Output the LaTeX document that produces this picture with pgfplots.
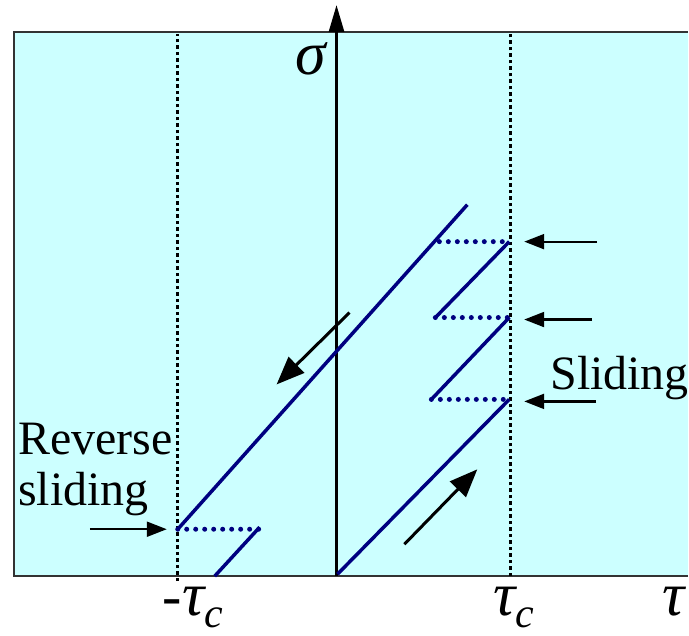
\documentclass[border=0pt]{standalone}
\usepackage{pgfplots}
\pgfplotsset{compat=1.18}
\usetikzlibrary{arrows.meta}
\usepackage{fontspec}
\setmainfont{Liberation Serif}
\definecolor{bgcyan}{HTML}{CCFFFF}
\definecolor{lineblue}{HTML}{000080}
\newcommand{\lbl}{\fontsize{48}{52}\selectfont}
\newcommand{\greek}{\fontsize{62}{66}\selectfont\itshape}
\newcommand{\subc}{\fontsize{42}{44}\selectfont\itshape}
\begin{document}
\begin{tikzpicture}
\begin{axis}[
  scale only axis, width=675pt, height=545pt,
  xmin=14, xmax=689, ymin=59, ymax=604,
  clip=false,
  xtick=\empty, ytick=\empty,
  axis line style={draw=none},
  axis background/.style={fill=bgcyan},
]
% frame (no right edge)
\draw[black!80, line width=2pt] (axis cs:689,59) -- (axis cs:14,59) -- (axis cs:14,604) -- (axis cs:689,604);
% extent of the page
\path (axis cs:0,0) rectangle (axis cs:689,636);

% critical stress lines
\addplot[black, line width=3.5pt, dash pattern=on 3.5pt off 3pt] coordinates {(178,54) (178,602)};
\addplot[black, line width=3.5pt, dash pattern=on 3.5pt off 3pt] coordinates {(511,59) (511,602)};

% sigma axis
\addplot[black, line width=3pt, -{Triangle[length=27pt, width=15pt]}] coordinates {(337,59) (337,631)};

% loading paths
\addplot[lineblue, line width=3.5pt] coordinates {(178,106) (468,431)};
\addplot[lineblue, line width=3.5pt] coordinates {(215,59) (260,108)};
\addplot[lineblue, line width=3.5pt] coordinates {(338,61) (510,236)};
\addplot[lineblue, line width=3.5pt] coordinates {(432,236) (510,318)};
\addplot[lineblue, line width=3.5pt] coordinates {(436,318) (510,394)};

% stress drops
\addplot[lineblue, line width=5pt, line cap=round, dash pattern=on 0pt off 9pt] coordinates {(440,394) (511,394)};
\addplot[lineblue, line width=5pt, line cap=round, dash pattern=on 0pt off 9pt] coordinates {(436,318) (511,318)};
\addplot[lineblue, line width=5pt, line cap=round, dash pattern=on 0pt off 9pt] coordinates {(432,236) (511,236)};
\addplot[lineblue, line width=5pt, line cap=round, dash pattern=on 0pt off 9pt] coordinates {(178,106) (260,106)};

% direction arrows
\addplot[black, line width=3pt, -{Triangle[length=28pt, width=22pt]}] coordinates {(350,323) (277,251)};
\addplot[black, line width=3pt, -{Triangle[length=28pt, width=22pt]}] coordinates {(405,91) (478,166)};
\addplot[black, line width=2.2pt, -{Triangle[length=20pt, width=15pt]}] coordinates {(598,394) (525,394)};
\addplot[black, line width=2.2pt, -{Triangle[length=20pt, width=15pt]}] coordinates {(593,316) (525,316)};
\addplot[black, line width=2.2pt, -{Triangle[length=20pt, width=15pt]}] coordinates {(597,234) (525,234)};
\addplot[black, line width=2.2pt, -{Triangle[length=20pt, width=15pt]}] coordinates {(90,106) (167,106)};

% labels
\node[anchor=base east, inner sep=0pt] at (axis cs:327,561) {\greek σ};
\node[anchor=base west, inner sep=0pt] at (axis cs:18,181) {\lbl Reverse};
\node[anchor=base west, inner sep=0pt] at (axis cs:18,130) {\lbl sliding};
\node[anchor=base west, inner sep=0pt] at (axis cs:551,246) {\lbl Sliding};
\node[anchor=base west, inner sep=0pt] at (axis cs:163,20) {{\fontsize{58}{60}\selectfont -}\greek τ\raisebox{-12pt}{\subc c}};
\node[anchor=base west, inner sep=0pt] at (axis cs:494,20) {\greek τ\raisebox{-12pt}{\subc c}};
\node[anchor=base west, inner sep=0pt] at (axis cs:663,20) {\greek τ};
\end{axis}
\end{tikzpicture}
\end{document}
